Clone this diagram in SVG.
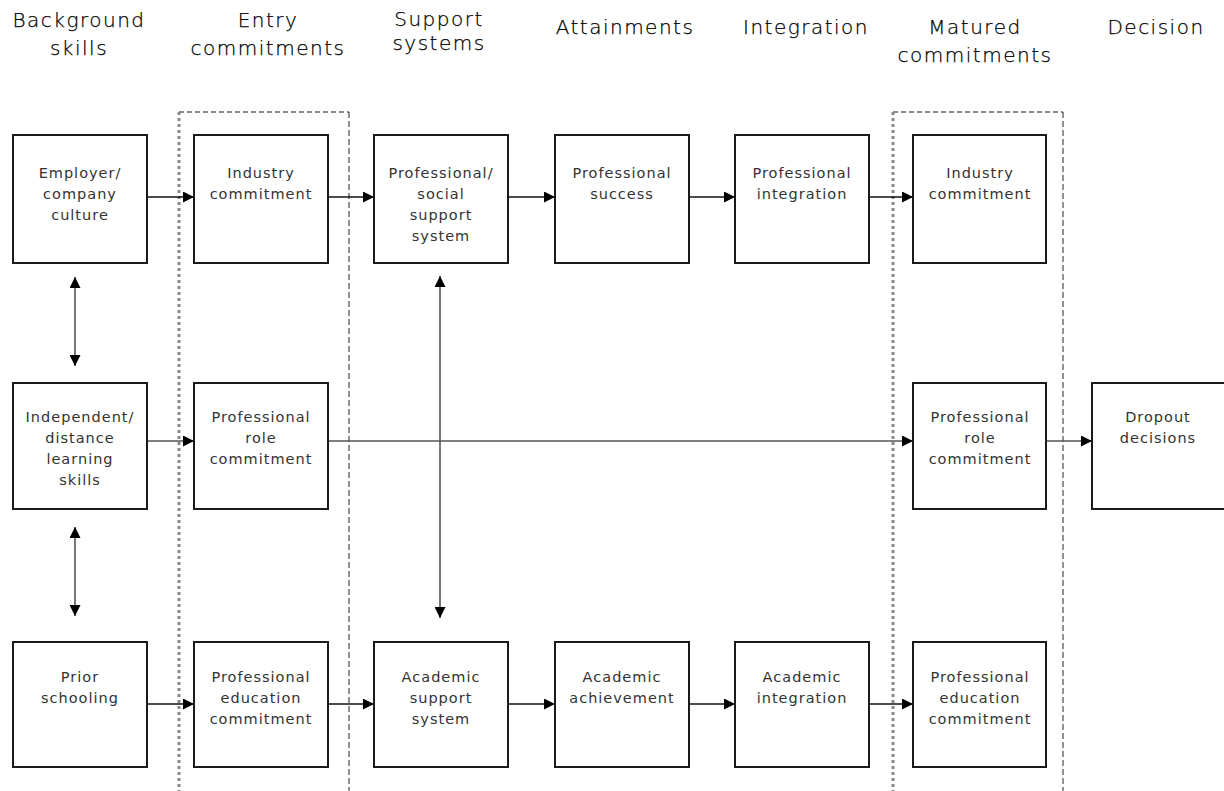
<svg xmlns="http://www.w3.org/2000/svg" width="1224" height="791" viewBox="0 0 1224 791">
  <style>
    .hdr { font-family: "DejaVu Sans", Verdana, sans-serif; font-size: 20px; font-weight: 200; letter-spacing: 1.5px; fill: #000; stroke: #000; stroke-width: 0.25; text-anchor: middle; }
    .lbl { font-family: "DejaVu Sans", Verdana, sans-serif; font-size: 14.5px; letter-spacing: 1px; fill: #333; text-anchor: middle; }
    .box { fill: #fff; stroke: #1a1a1a; stroke-width: 2; }
    .conn { stroke: #111; stroke-width: 1.6; fill: none; }
    .conn-grey { stroke: #555; stroke-width: 1.6; fill: none; }
    .dash-left { stroke: #888; stroke-width: 3; stroke-dasharray: 3 3; fill: none; }
    .dash-top { stroke: #666; stroke-width: 1.5; stroke-dasharray: 5 3; fill: none; }
    .dash-right { stroke: #222; stroke-width: 1; stroke-dasharray: 6 3; fill: none; }
  </style>
  <defs>
    <marker id="arrow" viewBox="0 0 11 11" refX="11" refY="5.5" markerWidth="11" markerHeight="11" markerUnits="userSpaceOnUse" orient="auto-start-reverse">
      <path d="M0,0 L11,5.5 L0,11 Z" fill="#000"/>
    </marker>
  </defs>
  <rect width="1224" height="791" fill="#fff"/>

  <!-- column headings -->
  <g id="headings">
    <text class="hdr" x="79" y="27">Background</text>
    <text class="hdr" x="79" y="55">skills</text>
    <text class="hdr" x="268" y="27">Entry</text>
    <text class="hdr" x="268" y="55">commitments</text>
    <text class="hdr" x="439" y="26">Support</text>
    <text class="hdr" x="439" y="50">systems</text>
    <text class="hdr" x="625" y="34">Attainments</text>
    <text class="hdr" x="806" y="34">Integration</text>
    <text class="hdr" x="975" y="34">Matured</text>
    <text class="hdr" x="975" y="62">commitments</text>
    <text class="hdr" x="1156" y="34">Decision</text>
  </g>

  <!-- commitment group frames -->
  <g id="entry-frame">
    <path class="dash-top" d="M179,112 H349"/>
    <path class="dash-left" d="M179,112 V791"/>
    <path class="dash-right" d="M349,112 V791"/>
  </g>
  <g id="matured-frame">
    <path class="dash-top" d="M893,112 H1063"/>
    <path class="dash-left" d="M893,112 V791"/>
    <path class="dash-right" d="M1063,112 V791"/>
  </g>

  <!-- connectors -->
  <g id="connectors">
    <!-- top row -->
    <line class="conn" x1="147" y1="197" x2="194" y2="197" marker-end="url(#arrow)"/>
    <line class="conn" x1="328" y1="197" x2="374" y2="197" marker-end="url(#arrow)"/>
    <line class="conn" x1="508" y1="197" x2="555" y2="197" marker-end="url(#arrow)"/>
    <line class="conn" x1="689" y1="197" x2="735" y2="197" marker-end="url(#arrow)"/>
    <line class="conn" x1="869" y1="197" x2="913" y2="197" marker-end="url(#arrow)"/>
    <!-- middle row -->
    <line class="conn-grey" x1="147" y1="441" x2="194" y2="441" marker-end="url(#arrow)"/>
    <line class="conn-grey" x1="328" y1="441" x2="913" y2="441" marker-end="url(#arrow)"/>
    <line class="conn-grey" x1="1046" y1="441" x2="1092" y2="441" marker-end="url(#arrow)"/>
    <!-- bottom row -->
    <line class="conn" x1="147" y1="704" x2="194" y2="704" marker-end="url(#arrow)"/>
    <line class="conn" x1="328" y1="704" x2="374" y2="704" marker-end="url(#arrow)"/>
    <line class="conn" x1="508" y1="704" x2="555" y2="704" marker-end="url(#arrow)"/>
    <line class="conn" x1="689" y1="704" x2="735" y2="704" marker-end="url(#arrow)"/>
    <line class="conn" x1="869" y1="704" x2="913" y2="704" marker-end="url(#arrow)"/>
    <!-- two-way links -->
    <line class="conn-grey" x1="75" y1="277" x2="75" y2="366" marker-start="url(#arrow)" marker-end="url(#arrow)"/>
    <line class="conn-grey" x1="75" y1="527" x2="75" y2="616" marker-start="url(#arrow)" marker-end="url(#arrow)"/>
    <line class="conn-grey" x1="440" y1="276" x2="440" y2="618" marker-start="url(#arrow)" marker-end="url(#arrow)"/>
  </g>

  <!-- background skills -->
  <g id="employer-culture">
    <rect class="box" x="13" y="135" width="134" height="128"/>
    <text class="lbl" x="80" y="178">Employer/</text>
    <text class="lbl" x="80" y="199">company</text>
    <text class="lbl" x="80" y="220">culture</text>
  </g>
  <g id="distance-skills">
    <rect class="box" x="13" y="383" width="134" height="126"/>
    <text class="lbl" x="80" y="422">Independent/</text>
    <text class="lbl" x="80" y="443">distance</text>
    <text class="lbl" x="80" y="464">learning</text>
    <text class="lbl" x="80" y="485">skills</text>
  </g>
  <g id="prior-schooling">
    <rect class="box" x="13" y="642" width="134" height="125"/>
    <text class="lbl" x="80" y="682">Prior</text>
    <text class="lbl" x="80" y="703">schooling</text>
  </g>

  <!-- entry commitments -->
  <g id="entry-industry">
    <rect class="box" x="194" y="135" width="134" height="128"/>
    <text class="lbl" x="261" y="178">Industry</text>
    <text class="lbl" x="261" y="199">commitment</text>
  </g>
  <g id="entry-role">
    <rect class="box" x="194" y="383" width="134" height="126"/>
    <text class="lbl" x="261" y="422">Professional</text>
    <text class="lbl" x="261" y="443">role</text>
    <text class="lbl" x="261" y="464">commitment</text>
  </g>
  <g id="entry-education">
    <rect class="box" x="194" y="642" width="134" height="125"/>
    <text class="lbl" x="261" y="682">Professional</text>
    <text class="lbl" x="261" y="703">education</text>
    <text class="lbl" x="261" y="724">commitment</text>
  </g>

  <!-- support systems -->
  <g id="social-support">
    <rect class="box" x="374" y="135" width="134" height="128"/>
    <text class="lbl" x="441" y="178">Professional/</text>
    <text class="lbl" x="441" y="199">social</text>
    <text class="lbl" x="441" y="220">support</text>
    <text class="lbl" x="441" y="241">system</text>
  </g>
  <g id="academic-support">
    <rect class="box" x="374" y="642" width="134" height="125"/>
    <text class="lbl" x="441" y="682">Academic</text>
    <text class="lbl" x="441" y="703">support</text>
    <text class="lbl" x="441" y="724">system</text>
  </g>

  <!-- attainments -->
  <g id="professional-success">
    <rect class="box" x="555" y="135" width="134" height="128"/>
    <text class="lbl" x="622" y="178">Professional</text>
    <text class="lbl" x="622" y="199">success</text>
  </g>
  <g id="academic-achievement">
    <rect class="box" x="555" y="642" width="134" height="125"/>
    <text class="lbl" x="622" y="682">Academic</text>
    <text class="lbl" x="622" y="703">achievement</text>
  </g>

  <!-- integration -->
  <g id="professional-integration">
    <rect class="box" x="735" y="135" width="134" height="128"/>
    <text class="lbl" x="802" y="178">Professional</text>
    <text class="lbl" x="802" y="199">integration</text>
  </g>
  <g id="academic-integration">
    <rect class="box" x="735" y="642" width="134" height="125"/>
    <text class="lbl" x="802" y="682">Academic</text>
    <text class="lbl" x="802" y="703">integration</text>
  </g>

  <!-- matured commitments -->
  <g id="matured-industry">
    <rect class="box" x="913" y="135" width="133" height="128"/>
    <text class="lbl" x="980" y="178">Industry</text>
    <text class="lbl" x="980" y="199">commitment</text>
  </g>
  <g id="matured-role">
    <rect class="box" x="913" y="383" width="133" height="126"/>
    <text class="lbl" x="980" y="422">Professional</text>
    <text class="lbl" x="980" y="443">role</text>
    <text class="lbl" x="980" y="464">commitment</text>
  </g>
  <g id="matured-education">
    <rect class="box" x="913" y="642" width="133" height="125"/>
    <text class="lbl" x="980" y="682">Professional</text>
    <text class="lbl" x="980" y="703">education</text>
    <text class="lbl" x="980" y="724">commitment</text>
  </g>

  <!-- decision -->
  <g id="dropout-decisions">
    <rect class="box" x="1092" y="383" width="140" height="126"/>
    <text class="lbl" x="1158" y="422">Dropout</text>
    <text class="lbl" x="1158" y="443">decisions</text>
  </g>
</svg>
